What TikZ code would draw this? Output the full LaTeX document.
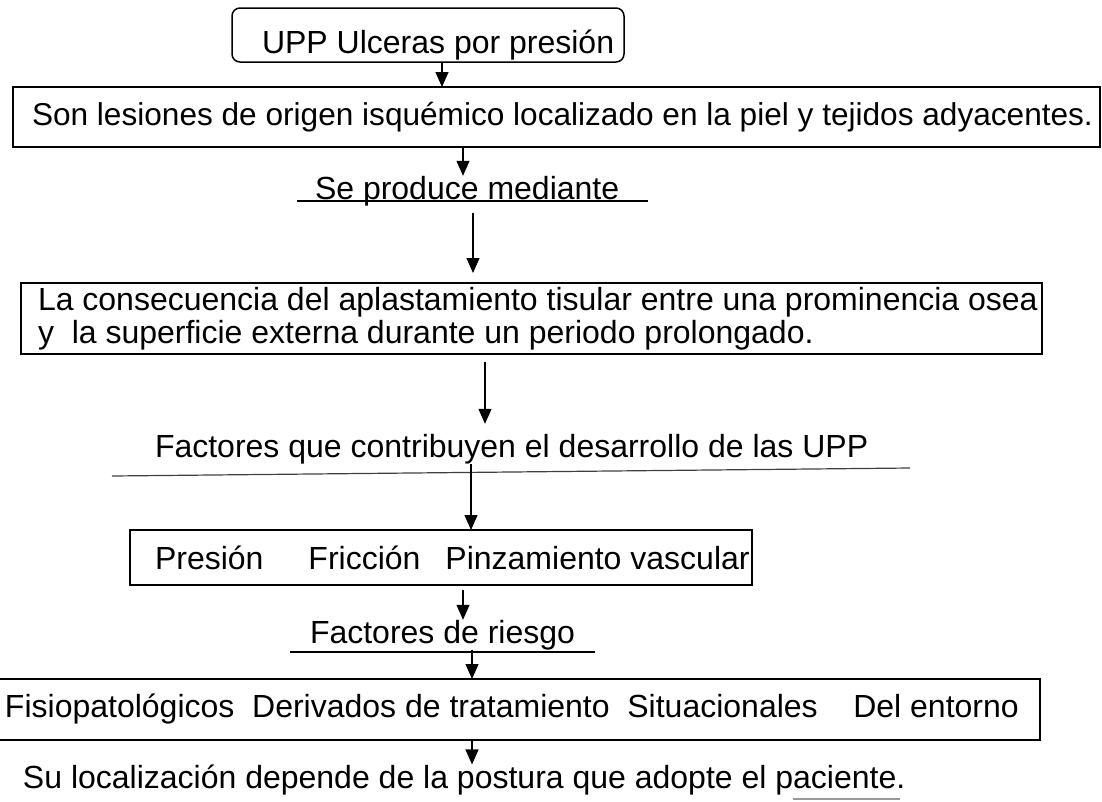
\documentclass[tikz,border=0pt]{standalone}
\usepackage{fontspec}
\setmainfont{Liberation Sans}
\usetikzlibrary{positioning,arrows.meta}

\newcommand{\padtext}[3]{\makebox[#1][l]{\hspace*{#2}#3}}

\begin{document}
\begin{tikzpicture}
[x=1pt,y=-1pt,
 every node/.style={inner sep=0pt,outer sep=0pt,font=\fontsize{32}{33}\selectfont},
 card/.style={draw=black,line width=1.5pt,rectangle,anchor=north west},
 rcard/.style={card,rounded corners=8pt},
 lbl/.style={anchor=base west},
 arr/.style={-{Triangle[width=13pt,length=15pt]},line width=1.2pt},
 rule/.style={line width=1.2pt}]
\useasboundingbox (0,0) rectangle (1102,801);

\node[rcard,text height=45pt,text depth=9pt]  (upp)   at (232,8)   {\padtext{392pt}{30pt}{UPP Ulceras por presión}};
\node[card,text height=38pt,text depth=22pt,font=\fontsize{31.6}{33}\selectfont]
                                              (les)   at (13,87)   {\padtext{1087pt}{19pt}{Son lesiones de origen isquémico localizado en la piel y tejidos adyacentes.}};
\node[lbl]                                    (se)    at (315,199) {Se produce mediante};
\node[card,text height=27pt,text depth=44pt]  (cons)  at (21,283)  {\padtext{1021pt}{17pt}{\begin{tabular}[t]{@{}l@{}}La consecuencia del aplastamiento tisular entre una prominencia osea\\y\ \ la superficie externa durante un periodo prolongado.\end{tabular}}};
\node[lbl]                                    (fac)   at (155,457) {Factores que contribuyen el desarrollo de las UPP};
\node[card,text height=39pt,text depth=16pt]  (pinz)  at (130,530) {\padtext{622pt}{25pt}{Presión\hspace{45pt}Fricción\hspace{25pt}Pinzamiento vascular}};
\node[lbl]                                    (rie)   at (310,643) {Factores de riesgo};
\node[card,text height=38pt,text depth=23pt]  (tipos) at (-2,679)  {\padtext{1042pt}{7pt}{Fisiopatológicos\ \ Derivados de tratamiento\ \ Situacionales\ \ \ \ Del entorno}};
\node[lbl]                                    (loc)   at (23,788)  {Su localización depende de la postura que adopte el paciente.};

% underlines
\draw[rule]          (297,201) -- (648,201);
\draw[rule,black!75] (112,476) -- (910,468);
\draw[rule]          (290,652) -- (595,652);
\draw[rule,black!40] (793,799) -- (900,799);

\coordinate (x1) at (442,0);
\coordinate (x2) at (463,0);
\coordinate (x3) at (473,0);
\coordinate (x4) at (485,0);
\coordinate (x5) at (471,0);
\coordinate (x7) at (472,0);

\path[arr]                               (upp.south -| x1)   edge (les.north -| x1);
\path[arr]                               (les.south -| x2)   edge (se.north -| x2);
\path[arr,shorten <=7pt,shorten >=10pt]  (se.south -| x3)    edge (cons.north -| x3);
\path[arr,shorten <=8pt,shorten >=10pt]  (cons.south -| x4)  edge (fac.north -| x4);
\path[arr]                               (fac.south -| x5)   edge (pinz.north -| x5);
\path[arr,shorten <=5pt]                 (pinz.south -| x2)  edge (rie.north -| x2);
\path[arr]                               (rie.south -| x7)   edge (tipos.north -| x7);
\path[arr]                               (tipos.south -| x7) edge (loc.north -| x7);
\end{tikzpicture}
\end{document}
